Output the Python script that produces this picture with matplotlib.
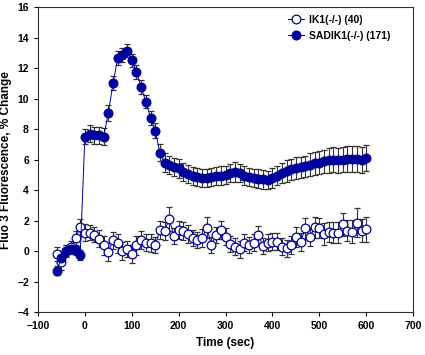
import numpy as np
import matplotlib
matplotlib.use("Agg")
import matplotlib.pyplot as plt
from matplotlib.lines import Line2D

plt.rcParams['font.family'] = ['Liberation Sans', 'DejaVu Sans']
plt.rcParams['font.weight'] = 'bold'

# time points (sec), one every 10 s
time_s = np.arange(-60, 601, 10)

# IK1(-/-) mean % change
ik1_mean = [-0.2, -0.75, 0.0, 0.25, 0.83, 1.55, 1.2, 1.2, 1.07, 0.8,
            0.37, -0.07, 0.7, 0.5, 0.02, 0.13, -0.2, 0.37, 0.72, 0.54,
            0.54, 0.39, 1.38, 1.33, 2.12, 0.98, 1.38, 1.33, 1.11, 0.85,
            0.72, 0.87, 1.53, 0.39, 1.05, 1.38, 0.94, 0.46, 0.28, 0.11,
            0.54, 0.39, 0.54, 1.05, 0.33, 0.54, 0.61, 0.61, 0.28, 0.17,
            0.39, 0.9, 0.61, 1.49, 0.94, 1.55, 1.49, 1.11, 1.27, 1.2,
            1.2, 1.77, 1.33, 1.27, 1.86, 1.33, 1.42]
ik1_err = [0.45, 0.5, 0.4, 0.4, 0.5, 0.55, 0.55, 0.5, 0.5, 0.55,
           0.6, 0.6, 0.55, 0.6, 0.6, 0.55, 0.6, 0.6, 0.6, 0.55,
           0.6, 0.55, 0.6, 0.6, 0.8, 0.55, 0.6, 0.6, 0.6, 0.55,
           0.55, 0.6, 0.7, 0.5, 0.55, 0.6, 0.55, 0.5, 0.55, 0.55,
           0.55, 0.5, 0.55, 0.6, 0.5, 0.55, 0.55, 0.55, 0.55, 0.55,
           0.6, 0.65, 0.6, 0.7, 0.6, 0.7, 0.65, 0.7, 0.65, 0.7,
           0.7, 0.75, 0.7, 0.75, 0.95, 0.75, 0.8]

# SADIK1(-/-) mean % change
sadik_mean = [-1.29, -0.48, 0.02, 0.13, 0.07, -0.26, 7.5, 7.7, 7.6, 7.6,
              7.5, 9.05, 11.0, 12.65, 12.85, 13.15, 12.5, 11.75, 10.75, 9.8,
              8.75, 7.9, 6.45, 5.8, 5.64, 5.53, 5.42, 5.2, 5.05, 4.9,
              4.85, 4.8, 4.8, 4.85, 4.9, 4.95, 5.0, 5.1, 5.18, 5.1,
              4.95, 4.85, 4.8, 4.75, 4.7, 4.66, 4.8, 4.95, 5.1, 5.25,
              5.35, 5.45, 5.5, 5.55, 5.65, 5.75, 5.8, 5.9, 5.95, 6.0,
              5.95, 6.0, 6.05, 6.05, 6.05, 6.0, 6.08]
sadik_err = [0.3, 0.35, 0.35, 0.35, 0.35, 0.3, 0.5, 0.55, 0.55, 0.55,
             0.55, 0.5, 0.45, 0.45, 0.45, 0.45, 0.45, 0.45, 0.45, 0.45,
             0.45, 0.5, 0.55, 0.6, 0.6, 0.6, 0.6, 0.6, 0.6, 0.6,
             0.6, 0.6, 0.6, 0.6, 0.6, 0.6, 0.6, 0.6, 0.65, 0.6,
             0.6, 0.6, 0.6, 0.6, 0.6, 0.6, 0.65, 0.65, 0.65, 0.7,
             0.7, 0.7, 0.7, 0.7, 0.75, 0.75, 0.75, 0.75, 0.8, 0.8,
             0.8, 0.8, 0.85, 0.85, 0.85, 0.85, 0.85]

series_labels = ['IK1(-/-) (40)', 'SADIK1(-/-) (171)']

NAVY = '#00009C'
ERR_COLOR = '#333333'

fig = plt.figure(figsize=(4.25, 3.55), dpi=100)
ax = fig.add_axes([0.0894, 0.121, 0.8826, 0.859])

ax.errorbar(time_s, ik1_mean, yerr=ik1_err, fmt='-o', color=NAVY, lw=0.7,
            ms=6.3, mfc='white', mec=NAVY, mew=0.9, ecolor=ERR_COLOR,
            elinewidth=0.8, capsize=2, capthick=0.8)
ax.errorbar(time_s, sadik_mean, yerr=sadik_err, fmt='-o', color=NAVY, lw=0.7,
            ms=6.3, mfc=NAVY, mec=NAVY, mew=0.9, ecolor=ERR_COLOR,
            elinewidth=0.8, capsize=2, capthick=0.8)

ax.set_xlim(-100, 700)
ax.set_ylim(-4, 16)
ax.set_xticks(np.arange(-100, 701, 100))
ax.set_yticks(np.arange(-4, 17, 2))
ax.tick_params(direction='out', length=3, width=0.8, labelsize=7.5)
for sp in ax.spines.values():
    sp.set_linewidth(0.8)
    sp.set_color('#333333')

ax.set_xlabel('Time (sec)', fontsize=8.5, fontweight='bold')
ax.set_ylabel('Fluo 3 Fluorescence, % Change', fontsize=8.5, fontweight='bold')

# legend shows only line + marker (no error bars)
handles = [
    Line2D([], [], color=NAVY, lw=0.7, marker='o', ms=6.3, mfc='white', mec=NAVY, mew=0.9),
    Line2D([], [], color=NAVY, lw=0.7, marker='o', ms=6.3, mfc=NAVY, mec=NAVY, mew=0.9),
]
ax.legend(handles, series_labels, loc='upper right', bbox_to_anchor=(0.955, 0.995),
          frameon=False, fontsize=7.5, handlelength=1.6, handletextpad=0.4,
          borderaxespad=0.2, labelspacing=0.6)

plt.savefig('out.png', dpi=100)
